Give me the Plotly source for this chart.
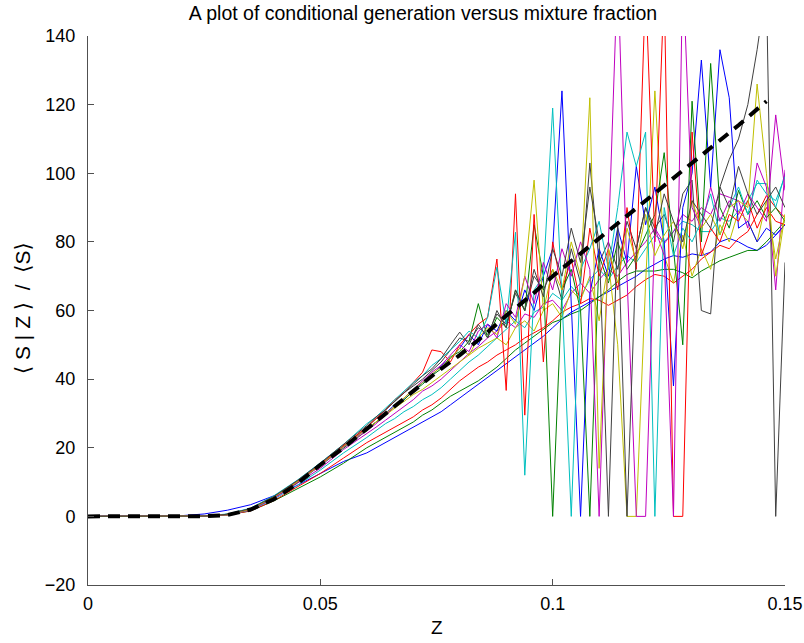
import plotly.graph_objects as go

# Mixture fraction grid (shared by all conditional-generation curves)
Z = [0.0, 0.005, 0.01, 0.015, 0.02, 0.025, 0.03, 0.035, 0.04, 0.045, 0.05, 0.055,
     0.060, 0.062, 0.064, 0.066, 0.068, 0.070, 0.072, 0.074, 0.076, 0.078,
     0.080, 0.082, 0.084, 0.086, 0.088, 0.090, 0.092, 0.094, 0.096, 0.098,
     0.100, 0.102, 0.104, 0.106, 0.108, 0.110, 0.112, 0.114, 0.116, 0.118,
     0.120, 0.122, 0.124, 0.126, 0.128, 0.130, 0.132, 0.134, 0.136, 0.138,
     0.140, 0.142, 0.144, 0.146, 0.148, 0.150]

blue_a = [0, 0, 0, 0, 0.2, 0.7, 1.8, 3.4, 6, 9, 12.5, 16,
          18.5, 20, 21.5, 23, 24.5, 26, 27.5, 29, 30.5, 32.5,
          34.5, 36.5, 38.5, 40.5, 42.5, 44.5, 46.5, 48.5, 50.5, 52.5,
          55, 57.5, 59.5, 61, 62.5, 64, 65.5, 67, 68.5, 70,
          72, 73.5, 75, 76, 75.5, 76.5, 76, 77, 80, 81,
          80, 78.5, 77.5, 79, 82, 85]
green_a = [0, 0, 0, 0, 0, 0.1, 0.4, 1.6, 4.5, 8, 11.5, 15.5,
           20, 21.5, 23, 24.5, 26, 27.5, 29.5, 31, 33, 35,
           36.5, 38, 39.5, 41.5, 43.5, 46, 48.5, 50.5, 52.5, 54.5,
           56.5, 57.5, 59, 60, 62, 64, 66, 68.5, 70.5, 71.5,
           71.5, 71.5, 72, 72, 71, 69.5, 71.5, 73, 74.5, 75.5,
           76.5, 77.5, 77.5, 80, 83, 86]
red_a = [0, 0, 0, 0, 0, 0.1, 0.4, 1.6, 4.6, 8.5, 12.5, 17,
         21.5, 23, 24.5, 26, 27.5, 29, 31, 32.5, 34.5, 37,
         39.5, 41.5, 43.5, 45, 47, 48.5, 50, 52, 53.5, 55,
         57, 59.5, 61, 62, 63.5, 63, 61.5, 63, 64.5, 67,
         69, 70.5, 70, 68, 70, 72, 75, 77, 79, 78,
         81, 83, 88, 93.5, 90, 87]
cyan_a = [0, 0, 0, 0, 0, 0.1, 0.5, 1.8, 5, 9, 13.5, 18.5,
          23, 25, 27, 28.5, 30.5, 32, 34, 35.5, 37.5, 40,
          42.5, 45, 47, 49.5, 52, 54.5, 57, 55, 59.5, 61,
          65, 63, 67, 64, 69, 72, 69, 73, 76, 74,
          78, 82, 80, 83, 86, 85, 83, 83, 87, 86,
          89, 92, 97, 97, 90, 100]
magenta_a = [0, 0, 0, 0, 0, 0.1, 0.5, 1.9, 5.2, 9.5, 14, 19.5,
             24, 26, 28, 30, 32, 34, 36.5, 38, 40, 42.5,
             45, 47.5, 49.5, 52, 54, 57, 55, 59, 58, 62,
             63, 60, 65, 68, 65, 69, 72, 70, 74, 77,
             80, 84, 79.5, 83, 88, 86, 90, 88, 94, 93,
             92, 84, 103, 96, 66, 101]
yellow_a = [0, 0, 0, 0, 0, 0.1, 0.5, 2, 5.5, 10, 15, 20.5,
            25.5, 27.5, 29.5, 31.5, 33.5, 35.5, 37, 39, 41, 43,
            45, 47, 49, 50.5, 52, 50, 55, 57, 54, 60,
            62, 58, 66, 63, 70, 57, 74, 50, 0, 0,
            68, 124, 76, 68, 82, 70, 78, 72, 85, 80,
            89, 86, 80, 92, 75, 88]
black_a = [0, 0, 0, 0, 0, 0.1, 0.6, 2.2, 5.6, 10, 15.2, 20.5,
           26, 28.5, 31, 33.5, 36, 38, 40, 42.5, 45, 48.5,
           52, 51, 55, 53, 59, 56, 65, 60, 70, 66,
           72, 63, 78, 68, 103, 74, 80, 72, 86, 78,
           90, 84, 88, 80, 94, 98, 60, 59, 96, 104,
           110, 120, 136, 155, 0, 74]
blue_b = [0, 0, 0, 0, 0, 0.1, 0.6, 2.1, 5.5, 10, 15, 20.5,
          25.5, 27.5, 30, 32.5, 34, 36.5, 39, 41, 44, 46,
          49, 53, 50, 56, 54, 60, 57, 66, 60, 70,
          78, 124, 60, 0, 65, 78, 70, 84, 74, 102,
          85, 96, 80, 38, 90, 100, 133, 96, 136, 122,
          84, 86, 80, 84, 82, 85]
green_b = [0, 0, 0, 0, 0, 0.1, 0.6, 2.1, 5.5, 9.8, 14.8, 20,
           25, 27.5, 29.5, 32, 34, 36.5, 38.5, 41, 43, 46.5,
           48, 51, 62, 52, 58, 55, 66, 60, 85, 70,
           0, 66, 72, 60, 0, 76, 68, 80, 72, 76,
           82, 88, 106, 78, 50, 121, 80, 132, 90, 84,
           95, 88, 92, 87, 90, 86]
red_b = [0, 0, 0, 0, 0, 0.1, 0.6, 2.2, 5.7, 10.2, 15.3, 20.7,
         26, 28.5, 31, 34, 36, 39, 42, 48.5, 48, 45,
         50, 53, 56, 58, 75, 36.7, 94, 29.5, 88, 45,
         80, 66, 75, 62, 84, 70, 78, 66, 90, 72,
         155, 80, 155, 0, 0, 112, 76, 84, 80, 88,
         86, 92, 84, 90, 86, 85]
cyan_b = [0, 0, 0, 0, 0, 0.1, 0.7, 2.4, 6, 10.5, 15.6, 21,
          27, 29, 31.5, 34, 36.5, 39, 41, 44, 46, 48.5,
          51, 54, 52, 58, 72.6, 56, 82.8, 12, 66, 70,
          119, 64, 0, 72, 78, 86, 72, 90, 112, 102,
          112, 0, 90, 76, 84, 80, 86, 94, 82, 90,
          96, 88, 98, 94, 92, 99]
magenta_b = [0, 0, 0, 0, 0, 0.1, 0.6, 2.1, 5.5, 9.9, 14.8, 20.2,
             25, 27, 29.5, 32, 34.5, 37, 39.5, 42, 44, 47,
             50, 48, 54, 56, 52, 62, 58, 70, 62, 74,
             66, 78, 70, 80, 72, 0, 80, 160, 70, 0,
             0, 84, 76, 0, 160, 90, 84, 96, 86, 92,
             88, 94, 90, 86, 117, 95]
yellow_b = [0, 0, 0, 0, 0, 0.1, 0.6, 2.1, 5.6, 10, 15, 20.4,
            25.5, 27.5, 30, 32, 34.5, 37, 39, 41.5, 43.5, 46,
            49, 47, 52, 55, 53, 60, 56, 70, 98, 60,
            72, 66, 80, 70, 122, 14, 78, 68, 84, 74,
            88, 76, 82, 86, 78, 92, 84, 88, 82, 90,
            92, 90, 126, 100, 70, 88]
black_b = [0, 0, 0, 0, 0, 0.1, 0.6, 2.3, 5.8, 10.4, 15.5, 21,
           26.5, 29, 31, 33.5, 36, 38.5, 41, 43, 46, 50,
           53.7, 50, 56, 52, 60, 55, 66, 60, 72, 64,
           78, 70, 84, 74, 96, 80, 0, 86, 0, 78,
           90, 82, 94, 86, 80, 92, 88, 84, 96, 90,
           102, 94, 88, 92, 96, 90]

# Reference (model) curve, thick dashed
Z_model = [0, 0.01, 0.02, 0.025, 0.03, 0.035, 0.04, 0.045, 0.05, 0.055, 0.06,
           0.065, 0.07, 0.075, 0.08, 0.085, 0.09, 0.095, 0.1, 0.105, 0.11,
           0.115, 0.12, 0.125, 0.13, 0.135, 0.14, 0.146]
S_model = [0, 0, 0, 0.05, 0.4, 2, 5, 9.5, 15, 20, 25.5,
           31, 36.5, 42, 47, 52.5, 58.5, 64, 70, 75.5, 81,
           86.5, 92, 97.5, 103, 108.5, 114, 121]

x_ticks = [0, 0.05, 0.1, 0.15]
x_tick_labels = ["0", "0.05", "0.1", "0.15"]
y_ticks = [-20, 0, 20, 40, 60, 80, 100, 120, 140]

series = [blue_a, green_a, red_a, cyan_a, magenta_a, yellow_a, black_a,
          blue_b, green_b, red_b, cyan_b, magenta_b, yellow_b, black_b]
colors = ["rgb(0,0,255)", "rgb(0,128,0)", "rgb(255,0,0)", "rgb(0,191,191)",
          "rgb(191,0,191)", "rgb(191,191,0)", "rgb(64,64,64)"]

for s in series:
    assert len(s) == len(Z), len(s)

fig = go.Figure()
for i, s in enumerate(series):
    fig.add_trace(go.Scatter(x=Z, y=s, mode="lines",
                             line=dict(color=colors[i % 7], width=1),
                             showlegend=False, hoverinfo="skip"))
fig.add_trace(go.Scatter(x=Z_model, y=S_model, mode="lines",
                         line=dict(color="black", width=4, dash="12px,8px"),
                         showlegend=False, hoverinfo="skip"))

W, H = 804, 643
L, R, T, B = 88, 19, 36, 58
pw, ph = W - L - R, H - T - B

sans = "Liberation Sans, Arial, DejaVu Sans, sans-serif"
axis_col = "rgb(80,80,80)"
fig.update_layout(
    width=W, height=H,
    margin=dict(l=L, r=R, t=T, b=B, autoexpand=False),
    paper_bgcolor="white", plot_bgcolor="white",
    font=dict(family=sans, size=18, color="black"),
    title=dict(text="A plot of conditional generation versus mixture fraction",
               x=(423 - L) / pw, xref="paper", xanchor="center",
               y=1 - 13 / H, yref="container", yanchor="middle",
               font=dict(family=sans, size=19.5)),
    xaxis=dict(range=[0, 0.15], tickvals=x_ticks, ticktext=x_tick_labels,
               automargin=False,
               showgrid=False, zeroline=False, showline=True,
               linecolor=axis_col, linewidth=1, ticks="inside",
               ticklen=6, tickcolor=axis_col, ticklabelstandoff=2),
    yaxis=dict(range=[-20, 140], tickvals=y_ticks,
               automargin=False,
               showgrid=False, zeroline=False, showline=True,
               linecolor=axis_col, linewidth=1, ticks="inside",
               ticklen=6, tickcolor=axis_col, ticklabelstandoff=8),
    hovermode=False,
    annotations=[
        dict(text="\u27e8 S | Z \u27e9  /  \u27e8S\u27e9", textangle=-90,
             xref="paper", yref="paper",
             x=(22 - L) / pw, y=(H - B - 308) / ph,
             xanchor="center", yanchor="middle", showarrow=False,
             font=dict(family=sans, size=21)),
        dict(text="Z", xref="paper", yref="paper",
             x=(437 - L) / pw, y=(H - B - 627) / ph,
             xanchor="center", yanchor="middle", showarrow=False,
             font=dict(family=sans, size=19)),
    ],
)

# Remove the browser's default 8 px page margin so the figure fills the window.
fig.write_html("out.html", config={"displayModeBar": False},
               post_script="document.body.style.margin='0';")
